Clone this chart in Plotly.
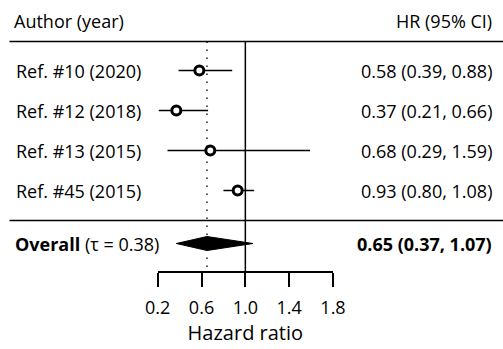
import plotly.graph_objects as go

# ---- data ----
study_labels = ["Ref. #10 (2020)", "Ref. #12 (2018)", "Ref. #13 (2015)", "Ref. #45 (2015)"]
hr = [0.58, 0.37, 0.68, 0.93]
ci_low = [0.39, 0.21, 0.29, 0.80]
ci_high = [0.88, 0.66, 1.59, 1.08]
overall_hr = 0.65
overall_low = 0.37
overall_high = 1.07
tau = 0.38
tick_values = [0.2, 0.6, 1.0, 1.4, 1.8]
tick_labels = ["0.2", "0.6", "1.0", "1.4", "1.8"]

# ---- layout constants ----
W, H = 503, 349
FONT = "Open Sans"
FS = 18
# horizontal scale: axis from px 157.7 (0.2) to 333 (1.8)
ax_px0, ax_px1 = 157.7, 333.0
ax_v0, ax_v1 = tick_values[0], tick_values[-1]
ppu = (ax_px1 - ax_px0) / (ax_v1 - ax_v0)
x_zero_px = ax_px0 - ax_v0 * ppu
x_range = [-x_zero_px / ppu, (W - x_zero_px) / ppu]

# vertical: row index units
row0_px, row_step = 70.5, 40.0
def y_of(px):
    return (px - row0_px) / row_step
y_range = [y_of(H), y_of(0)]
rows = list(range(len(study_labels)))
y_header = y_of(20.5)
y_top_rule = y_of(41.5)
y_mid_rule = y_of(220.5)
y_overall = y_of(243.5)
y_axis_px = 272.0
diamond_half = 7.0 / row_step

fig = go.Figure()

# CI lines
for i in rows:
    fig.add_trace(go.Scatter(
        x=[ci_low[i], ci_high[i]], y=[i, i], mode="lines",
        line=dict(color="black", width=1.5), showlegend=False, hoverinfo="skip"))

# point estimates
fig.add_trace(go.Scatter(
    x=hr, y=rows, mode="markers",
    marker=dict(symbol="circle", size=9, color="white",
                line=dict(color="black", width=3)),
    showlegend=False, hoverinfo="skip"))

# overall diamond
fig.add_trace(go.Scatter(
    x=[overall_low, overall_hr, overall_high, overall_hr, overall_low],
    y=[y_overall, y_overall - diamond_half, y_overall, y_overall + diamond_half, y_overall],
    mode="lines", fill="toself", fillcolor="black",
    line=dict(color="black", width=1), showlegend=False, hoverinfo="skip"))

# dummy trace for tick axis
fig.add_trace(go.Scatter(x=[None], y=[None], xaxis="x2", yaxis="y",
                         showlegend=False, hoverinfo="skip"))

y_axis_val = y_of(y_axis_px)
# reference lines
fig.add_shape(type="line", xref="x", yref="y", x0=1.0, x1=1.0,
              y0=y_top_rule, y1=y_axis_val, line=dict(color="black", width=1.5),
              layer="below")
fig.add_shape(type="line", xref="x", yref="y", x0=overall_hr, x1=overall_hr,
              y0=y_top_rule, y1=y_axis_val,
              line=dict(color="#222", width=1.5, dash="1.5px,6.5px"), layer="below")
# rules
for yy in (y_top_rule, y_mid_rule):
    fig.add_shape(type="line", xref="paper", yref="y", x0=9.5 / W, x1=1.0,
                  y0=yy, y1=yy, line=dict(color="black", width=1.5))

# text
def ann(text, xpx, y, anchor, size=FS):
    fig.add_annotation(text=text, xref="paper", yref="y", x=xpx / W, y=y,
                       xanchor=anchor, yanchor="middle", showarrow=False,
                       font=dict(family=FONT, size=size, color="black"))

ann("Author (year)", 12, y_header, "left")
ann("HR (95% CI)", 494, y_header, "right")
for i in rows:
    ann(study_labels[i], 13.5, i, "left")
    ann(f"{hr[i]:.2f} ({ci_low[i]:.2f}, {ci_high[i]:.2f})", 494, i, "right")
ann(f"<b>Overall</b> (τ = {tau:.2f})", 13, y_overall, "left")
ann(f"<b>{overall_hr:.2f} ({overall_low:.2f}, {overall_high:.2f})</b>", 494, y_overall, "right")

fig.update_layout(
    width=W, height=H,
    margin=dict(l=0, r=0, t=0, b=0, pad=0, autoexpand=False),
    paper_bgcolor="white", plot_bgcolor="rgba(0,0,0,0)",
    font=dict(family=FONT, size=FS, color="black"),
    xaxis=dict(range=x_range, domain=[0, 1], visible=False, fixedrange=True,
               automargin=False),
    yaxis=dict(range=y_range, domain=[0, 1], visible=False, fixedrange=True,
               automargin=False),
    xaxis2=dict(range=[ax_v0, ax_v1], domain=[ax_px0 / W, ax_px1 / W],
                anchor="free", position=1 - y_axis_px / H, side="bottom",
                showline=True, linecolor="black", linewidth=1.5,
                ticks="outside", ticklen=14, tickwidth=1.5, tickcolor="black",
                tickvals=tick_values, ticktext=tick_labels,
                tickfont=dict(family=FONT, size=FS, color="black"),
                ticklabelstandoff=6, automargin=False,
                showgrid=False, zeroline=False, fixedrange=True,
                title=dict(text="Hazard ratio", standoff=4,
                           font=dict(family=FONT, size=20, color="black"))),
)

fig.write_html("out.html", config={"displayModeBar": False},
               post_script="document.body.style.margin='0';")
